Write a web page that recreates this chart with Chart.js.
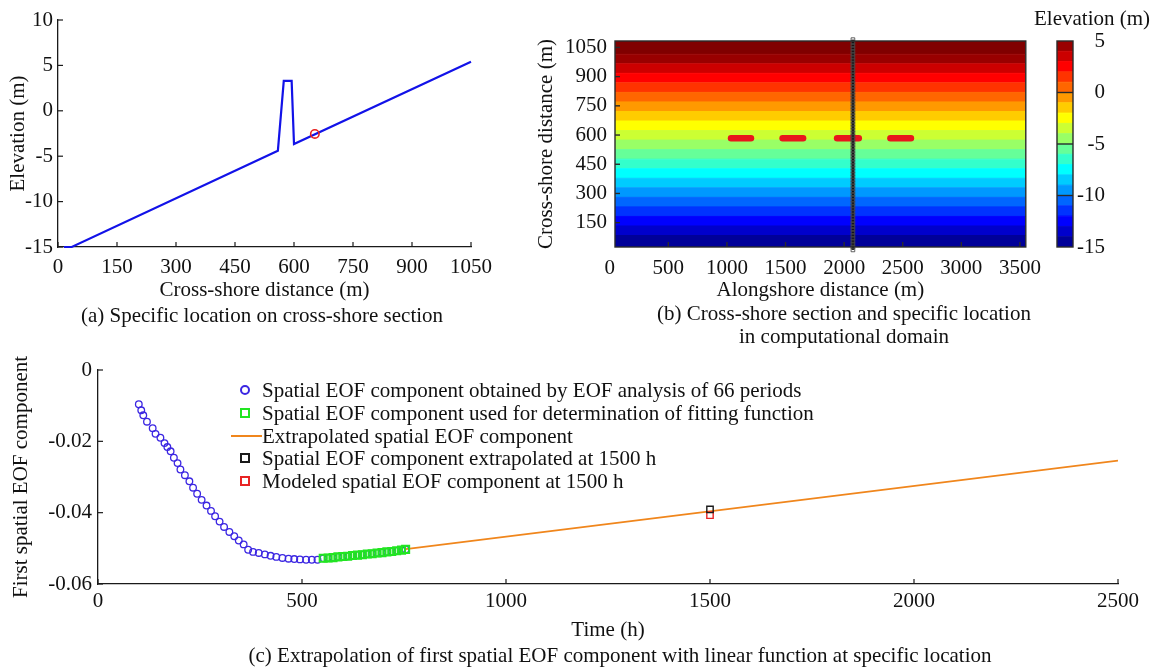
<!DOCTYPE html>
<html><head><meta charset="utf-8">
<script src="https://cdn.jsdelivr.net/npm/chart.js@4.4.1/dist/chart.umd.min.js"></script>
<style>
html,body{margin:0;padding:0;background:#fff;}
#fig{position:relative;width:1150px;height:667px;overflow:hidden;background:#fff;font-family:"Liberation Serif","Times New Roman",serif;color:#111;}
canvas{position:absolute;}
.txt{position:absolute;white-space:nowrap;font-size:21px;line-height:24px;}
.ctr{transform:translateX(-50%);}
.lg{position:absolute;left:225px;height:24px;white-space:nowrap;font-size:21px;line-height:24px;}
.sym{position:absolute;left:0;top:0;width:37px;height:24px;}
.lgt{position:absolute;left:37px;top:0;}
</style></head>
<body><div id="fig">
<canvas id="ca" width="500" height="310" style="left:0;top:0"></canvas>
<canvas id="cb" width="520" height="310" style="left:530px;top:0"></canvas>
<canvas id="cbar" width="110" height="270" style="left:1040px;top:0"></canvas>
<canvas id="cc" width="1150" height="310" style="left:0;top:340px"></canvas>
<div class="txt ctr" style="left:262px;top:303px">(a) Specific location on cross-shore section</div>
<div class="txt ctr" style="left:844px;top:301px">(b) Cross-shore section and specific location</div>
<div class="txt ctr" style="left:844px;top:324px">in computational domain</div>
<div class="txt" style="left:1034px;top:6px">Elevation (m)</div>
<div class="txt ctr" style="left:620px;top:643px">(c) Extrapolation of first spatial EOF component with linear function at specific location</div>
<div id="legend"></div>
</div>
<script>
// ---------- Panel (a): cross-shore profile ----------
const profileDistance = [15, 35, 559, 574, 594, 600, 1050];
const profileElevation = [-15, -15, -4.4, 3.3, 3.3, -3.65, 5.4];
const locationDistance = [653];
const locationElevation = [-2.55];
const aTicksX = [0, 150, 300, 450, 600, 750, 900, 1050];
const aTicksY = [-15, -10, -5, 0, 5, 10];

// ---------- Panel (b): computational domain ----------
const bandEdges = [25, 84, 133, 182, 231, 280, 329, 378, 427, 476, 525, 574, 623, 672, 721, 770, 819, 868, 917, 966, 1015, 1083];
const bandElevation = [-15, -14, -13, -12, -11, -10, -9, -8, -7, -6, -5, -4, -3, -2, -1, 0, 1, 2, 3, 4, 5];
const breakwaterStart = [1035, 1475, 1940, 2395];
const breakwaterEnd = [1205, 1650, 2125, 2570];
const breakwaterCrossShore = 583;
const sectionAlongshore = 2075;
const sectionNodes = [10,25,40,55,70,85,100,115,130,145,160,175,190,205,220,235,250,265,280,295,310,325,340,355,370,385,400,415,430,445,460,475,490,505,520,535,550,565,580,595,610,625,640,655,670,685,700,715,730,745,760,775,790,805,820,835,850,865,880,895,910,925,940,955,970,985,1000,1015,1030,1045,1060,1075,1090];
const bTicksX = [0, 500, 1000, 1500, 2000, 2500, 3000, 3500];
const bTicksY = [150, 300, 450, 600, 750, 900, 1050];
const colorbarEdges = [-15, -14, -13, -12, -11, -10, -9, -8, -7, -6, -5, -4, -3, -2, -1, 0, 1, 2, 3, 4, 5];
const colorbarTicks = [-15, -10, -5, 0, 5];

// ---------- Panel (c): first spatial EOF component ----------
const eofTime = [100,106,111,120,134,141,153,163,170,178,186,195,202,213,224,233,243,254,266,277,287,298,309,322,334,345,357,368,380,394,409,423,437,452,467,481,495,510,524,538,
                 552,564,576,588,600,612,624,636,648,660,672,684,696,708,720,732,744,754];
const eofValue = [-0.0096,-0.0113,-0.0127,-0.0145,-0.0163,-0.0179,-0.0190,-0.0205,-0.0216,-0.0228,-0.0246,-0.0261,-0.0279,-0.0295,-0.0312,-0.0330,-0.0347,-0.0364,-0.0380,-0.0395,-0.0410,-0.0425,-0.0440,-0.0454,-0.0466,-0.0478,-0.0489,-0.0504,-0.0510,-0.0513,-0.0517,-0.0521,-0.0524,-0.0527,-0.0529,-0.0530,-0.0531,-0.0532,-0.0532,-0.0532,
                  -0.0528,-0.0527,-0.0526,-0.0524,-0.0523,-0.0522,-0.0520,-0.0519,-0.0518,-0.0516,-0.0515,-0.0513,-0.0512,-0.0510,-0.0509,-0.0507,-0.0505,-0.0503];
const fitTime = [552,564,576,588,600,612,624,636,648,660,672,684,696,708,720,732,744,754];
const fitValue = [-0.0528,-0.0527,-0.0526,-0.0524,-0.0523,-0.0522,-0.0520,-0.0519,-0.0518,-0.0516,-0.0515,-0.0513,-0.0512,-0.0510,-0.0509,-0.0507,-0.0505,-0.0503];
const extrapTime = [754, 2500];
const extrapValue = [-0.0502, -0.0254];
const checkTime = [1500];
const extrapolatedAt1500 = [-0.0391];
const modeledAt1500 = [-0.0407];
const cTicksX = [0, 500, 1000, 1500, 2000, 2500];
const cTicksY = [-0.06, -0.04, -0.02, 0];
const cTickLabelsY = ['-0.06', '-0.04', '-0.02', '0'];
const seriesLabels = [
  'Spatial EOF component obtained by EOF analysis of 66 periods',
  'Spatial EOF component used for determination of fitting function',
  'Extrapolated spatial EOF component',
  'Spatial EOF component extrapolated at 1500 h',
  'Modeled spatial EOF component at 1500 h'
];

// ---------- helpers ----------
const FS = 21;
Chart.defaults.font.family = '"Liberation Serif", "Times New Roman", serif';
Chart.defaults.font.size = FS;
Chart.defaults.color = '#111';

const pts = (xs, ys) => xs.map((x, i) => ({x, y: ys[i]}));
function jet(t) {
  t = Math.min(1, Math.max(0, t));
  const c = v => Math.round(255 * Math.min(1, Math.max(0, v)));
  return `rgb(${c(1.5 - Math.abs(4 * t - 3))},${c(1.5 - Math.abs(4 * t - 2))},${c(1.5 - Math.abs(4 * t - 1))})`;
}
const elevColor = e => jet((e + 0.5 + 15) / 20);

function scale(o) {
  return {
    type: 'linear', min: o.min, max: o.max, position: o.pos, display: o.display !== false,
    afterBuildTicks: s => { s.ticks = (o.ticks || []).map(v => ({value: v})); },
    afterFit: s => { if (o.w != null) s.width = o.w; if (o.h != null) s.height = o.h; },
    ticks: { autoSkip: false, maxRotation: 0, minRotation: 0, padding: o.pad || 0, color: '#111',
             font: {size: FS}, crossAlign: o.cross || 'near', callback: o.fmt || (v => String(v)) },
    grid: { display: true, drawOnChartArea: false, drawTicks: false },
    border: { display: o.border !== false, color: '#1a1a1a', width: 1.3 },
    title: o.title ? { display: true, text: o.title, color: '#111', font: {size: FS},
                       padding: {top: o.tpad, bottom: o.tpad} } : {display: false}
  };
}

const decor = {
  id: 'decor',
  afterDatasetsDraw(chart, args, o) {
    const {ctx, chartArea: a} = chart;
    ctx.save();
    ctx.strokeStyle = o.color || '#1a1a1a';
    ctx.lineWidth = o.width || 1.2;
    (o.ticks || []).forEach(spec => {
      const s = chart.scales[spec.axis];
      s.ticks.forEach(t => {
        if (spec.skip && spec.skip.includes(t.value)) return;
        const p = s.getPixelForValue(t.value);
        ctx.beginPath();
        if (s.isHorizontal()) {
          if (p < a.left - 1 || p > a.right + 1) return;
          ctx.moveTo(p, a.bottom); ctx.lineTo(p, a.bottom - spec.len);
        } else {
          if (p < a.top - 1 || p > a.bottom + 1) return;
          if (spec.full) { ctx.moveTo(a.left, p); ctx.lineTo(a.right, p); }
          else { ctx.moveTo(a.left, p); ctx.lineTo(a.left + spec.len, p); }
        }
        ctx.stroke();
      });
    });
    if (o.box) ctx.strokeRect(a.left, a.top, a.right - a.left, a.bottom - a.top);
    ctx.restore();
  }
};

const common = { responsive: false, animation: false, devicePixelRatio: 1, events: [],
                 plugins: { legend: {display: false}, tooltip: {enabled: false} } };

// ---------- Panel (a) ----------
new Chart(document.getElementById('ca'), {
  type: 'scatter',
  data: { datasets: [
    { label: 'Specific location', data: pts(locationDistance, locationElevation), pointRadius: 4.2, pointBorderWidth: 1.6,
      pointBorderColor: '#e8201e', pointBackgroundColor: 'rgba(0,0,0,0)', order: 0 },
    { label: 'Cross-shore section', data: pts(profileDistance, profileElevation), showLine: true, borderColor: '#1212e8',
      borderWidth: 2.2, pointRadius: 0, clip: false, order: 1 }
  ]},
  options: Object.assign({}, common, {
    layout: { padding: {left: 0, right: 27, top: 20, bottom: 0} },
    scales: {
      x: scale({min: 0, max: 1050, pos: 'bottom', ticks: aTicksX, h: 63, pad: 8, title: 'Cross-shore distance (m)', tpad: 7}),
      y: scale({min: -15, max: 10, pos: 'left', ticks: aTicksY, w: 58, pad: 5, title: 'Elevation (m)', tpad: 6})
    },
    plugins: Object.assign({}, common.plugins, { decor: { ticks: [{axis: 'x', len: 5}, {axis: 'y', len: 5}] } })
  }),
  plugins: [decor]
});

// ---------- Panel (b) ----------
const bXmin = 45, bXmax = 3550;
const bDatasets = [];
bandElevation.forEach((e, i) => {
  bDatasets.push({
    label: 'Elevation ' + e, data: [{x: bXmin, y: bandEdges[i + 1]}, {x: bXmax, y: bandEdges[i + 1]}],
    showLine: true, borderWidth: 1, borderColor: elevColor(e), backgroundColor: elevColor(e),
    pointRadius: 0, fill: i === 0 ? 'start' : '-1', order: 10
  });
});
breakwaterStart.forEach((s, i) => {
  bDatasets.push({
    label: 'Breakwater ' + (i + 1), data: [{x: s, y: breakwaterCrossShore}, {x: breakwaterEnd[i], y: breakwaterCrossShore}],
    showLine: true, borderWidth: 6.5, borderColor: '#e8161c', borderCapStyle: 'round', pointRadius: 0, fill: false, order: 2
  });
});
bDatasets.push({
  label: 'Cross-shore section', data: sectionNodes.map(y => ({x: sectionAlongshore, y})),
  showLine: true, borderWidth: 2.5, borderColor: '#151515', pointStyle: 'rect', pointRadius: 2.6,
  pointBorderWidth: 1, pointBorderColor: 'rgba(70,70,70,0.85)', pointBackgroundColor: 'rgba(0,0,0,0)',
  fill: false, clip: false, order: 0
});
new Chart(document.getElementById('cb'), {
  type: 'scatter',
  data: { datasets: bDatasets },
  options: Object.assign({}, common, {
    layout: { padding: {left: 0, right: 4, top: 41, bottom: 0} },
    scales: {
      x: scale({min: bXmin, max: bXmax, pos: 'bottom', ticks: bTicksX, h: 63, pad: 9, title: 'Alongshore distance (m)', tpad: 7, border: false}),
      y: scale({min: 25, max: 1083, pos: 'left', ticks: bTicksY, w: 85, pad: 8, title: 'Cross-shore distance (m)', tpad: 4, border: false})
    },
    plugins: Object.assign({}, common.plugins, { decor: { box: true, width: 1.4, color: '#2a2a2a', ticks: [{axis: 'x', len: 5}, {axis: 'y', len: 5}] } })
  }),
  plugins: [decor]
});

// ---------- Colorbar ----------
const cbDatasets = colorbarEdges.slice(0, -1).map((e, i) => ({
  label: 'Level ' + e, data: [{x: 0, y: colorbarEdges[i + 1]}, {x: 1, y: colorbarEdges[i + 1]}],
  showLine: true, borderWidth: 1, borderColor: elevColor(e), backgroundColor: elevColor(e),
  pointRadius: 0, fill: i === 0 ? 'start' : '-1'
}));
new Chart(document.getElementById('cbar'), {
  type: 'scatter',
  data: { datasets: cbDatasets },
  options: Object.assign({}, common, {
    layout: { padding: {left: 17, right: 45, top: 41, bottom: 23} },
    scales: {
      x: scale({min: 0, max: 1, pos: 'bottom', display: false, ticks: []}),
      y: scale({min: -15, max: 5, pos: 'right', ticks: colorbarTicks, w: 32, pad: 6, cross: 'far', border: false})
    },
    plugins: Object.assign({}, common.plugins, { decor: { box: true, width: 1.4, color: '#2a2a2a', ticks: [{axis: 'y', full: true, skip: [-15, 5]}] } })
  }),
  plugins: [decor]
});

// ---------- Panel (c) ----------
const seriesColors = ['#3b26e2', '#22e522', '#f0861c', '#1a1a1a', '#e82424'];
const cDatasets = [
  { label: seriesLabels[0], data: pts(eofTime, eofValue), pointStyle: 'circle', pointRadius: 3.3, pointBorderWidth: 1.3,
    pointBorderColor: seriesColors[0], pointBackgroundColor: 'rgba(0,0,0,0)', order: 1, clip: false },
  { label: seriesLabels[1], data: pts(fitTime, fitValue), pointStyle: 'rect', pointRadius: 5, pointBorderWidth: 2,
    pointBorderColor: seriesColors[1], pointBackgroundColor: 'rgba(0,0,0,0)', order: 0 },
  { label: seriesLabels[2], data: pts(extrapTime, extrapValue), showLine: true, borderColor: seriesColors[2], borderWidth: 1.8,
    pointRadius: 0, order: 2 },
  { label: seriesLabels[3], data: pts(checkTime, extrapolatedAt1500), pointStyle: 'rect', pointRadius: 4.5, pointBorderWidth: 1.4,
    pointBorderColor: seriesColors[3], pointBackgroundColor: 'rgba(0,0,0,0)', order: 0 },
  { label: seriesLabels[4], data: pts(checkTime, modeledAt1500), pointStyle: 'rect', pointRadius: 4.5, pointBorderWidth: 1.4,
    pointBorderColor: seriesColors[4], pointBackgroundColor: 'rgba(0,0,0,0)', order: 0 }
];
new Chart(document.getElementById('cc'), {
  type: 'scatter',
  data: { datasets: cDatasets },
  options: Object.assign({}, common, {
    layout: { padding: {left: 0, right: 32, top: 30, bottom: 0} },
    scales: {
      x: scale({min: 0, max: 2500, pos: 'bottom', ticks: cTicksX, h: 66, pad: 5, title: 'Time (h)', tpad: 7}),
      y: scale({min: -0.06, max: 0, pos: 'left', ticks: cTicksY, w: 98, pad: 6, title: 'First spatial EOF component', tpad: 9,
                fmt: v => cTickLabelsY[cTicksY.findIndex(t => Math.abs(t - v) < 1e-9)]})
    },
    plugins: Object.assign({}, common.plugins, { decor: { ticks: [{axis: 'x', len: 5}, {axis: 'y', len: 5}] } })
  }),
  plugins: [decor]
});

// ---------- Legend for panel (c) ----------
const legendRowsY = [378, 401, 424, 446, 469];
const legendKinds = ['circle', 'rect', 'line', 'rect', 'rect'];
const legend = document.getElementById('legend');
seriesLabels.forEach((label, i) => {
  const row = document.createElement('div');
  row.className = 'lg';
  row.style.top = legendRowsY[i] + 'px';
  const sym = document.createElement('div');
  sym.className = 'sym';
  const m = document.createElement('div');
  m.style.position = 'absolute';
  if (legendKinds[i] === 'line') {
    Object.assign(m.style, {left: '6px', width: '31px', top: '11px', height: '2px', background: seriesColors[i]});
  } else {
    Object.assign(m.style, {left: '15px', top: '7px', width: '6px', height: '6px', boxSizing: 'content-box',
      border: '2px solid ' + seriesColors[i], borderRadius: legendKinds[i] === 'circle' ? '50%' : '0'});
  }
  sym.appendChild(m);
  const t = document.createElement('div');
  t.className = 'lgt';
  t.textContent = label;
  row.appendChild(sym); row.appendChild(t);
  legend.appendChild(row);
});
</script>
</body></html>
